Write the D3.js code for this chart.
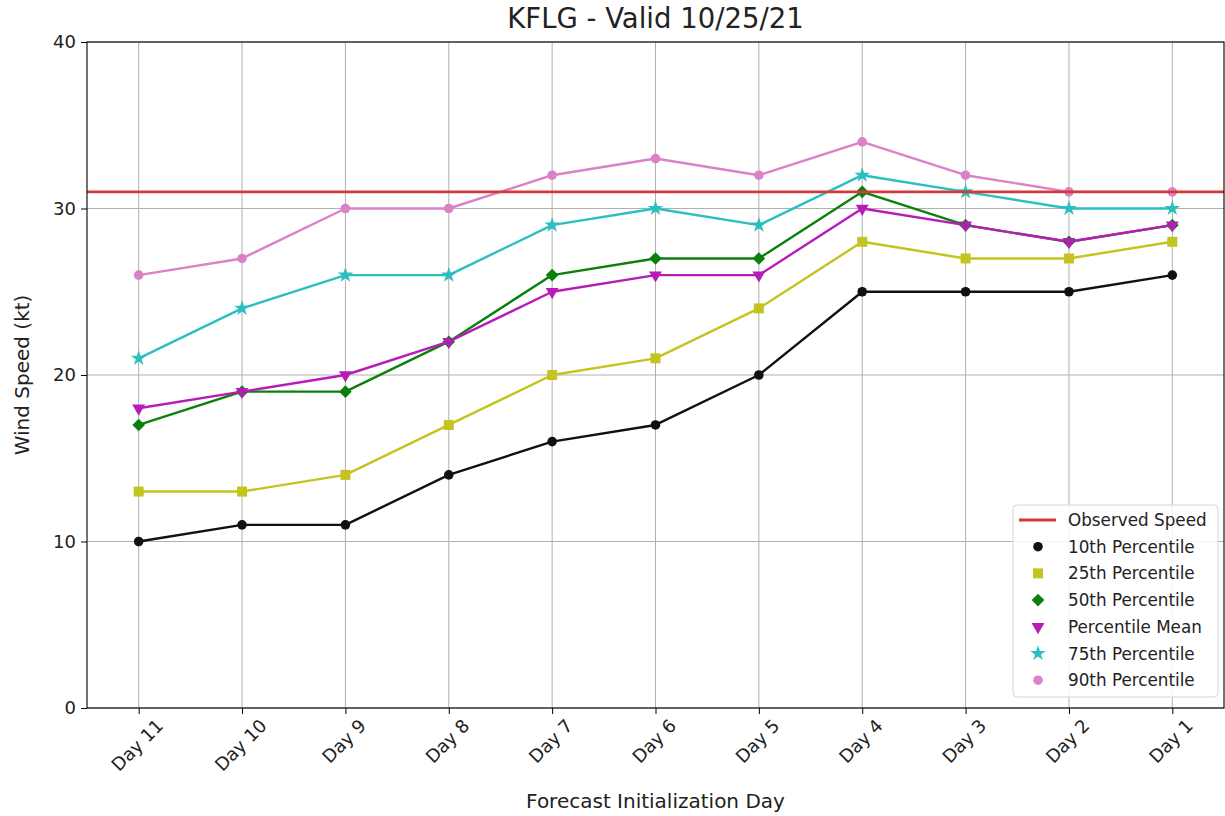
<!DOCTYPE html>
<html>
<head>
<meta charset="utf-8">
<script src="https://cdn.jsdelivr.net/npm/d3@7"></script>
<style>
    body { margin: 0; background: #fff; }
    text { font-family: "DejaVu Sans", sans-serif; fill: #222; }
</style>
</head>
<body>
<div id="chart"></div>
<script>
const days = ['Day 11', 'Day 10', 'Day 9', 'Day 8', 'Day 7', 'Day 6', 'Day 5', 'Day 4', 'Day 3', 'Day 2', 'Day 1'];
const p10 = [10, 11, 11, 14, 16, 17, 20, 25, 25, 25, 26];
const p25 = [13, 13, 14, 17, 20, 21, 24, 28, 27, 27, 28];
const p50 = [17, 19, 19, 22, 26, 27, 27, 31, 29, 28, 29];
const pMean = [18, 19, 20, 22, 25, 26, 26, 30, 29, 28, 29];
const p75 = [21, 24, 26, 26, 29, 30, 29, 32, 31, 30, 30];
const p90 = [26, 27, 30, 30, 32, 33, 32, 34, 32, 31, 31];
const observed = 31;
const yTicks = [0, 10, 20, 30, 40];

const series = [
    { name: '10th Percentile', values: p10, color: '#111111', shape: 'circle' },
    { name: '25th Percentile', values: p25, color: '#c4c420', shape: 'square' },
    { name: '50th Percentile', values: p50, color: '#0b800b', shape: 'diamond' },
    { name: 'Percentile Mean', values: pMean, color: '#b81cb8', shape: 'tridown' },
    { name: '75th Percentile', values: p75, color: '#2cbfbf', shape: 'star' },
    { name: '90th Percentile', values: p90, color: '#da82c8', shape: 'circle' }
];

const width = 1225, height = 816;
const margin = { top: 42, right: 1, bottom: 108, left: 87 };

const svg = d3.select('#chart').append('svg')
    .attr('width', width)
    .attr('height', height);

const xScale = d3.scaleLinear()
    .domain([-0.5, days.length - 0.5])
    .range([margin.left, width - margin.right]);

const yScale = d3.scaleLinear()
    .domain([0, 40])
    .range([height - margin.bottom, margin.top]);

const plotBottom = height - margin.bottom;

// grid
svg.append('g')
    .selectAll('line')
    .data(days.map((d, i) => i))
    .enter().append('line')
    .attr('x1', d => xScale(d)).attr('x2', d => xScale(d))
    .attr('y1', margin.top).attr('y2', plotBottom)
    .attr('stroke', '#b0b0b0').attr('stroke-width', 1);

svg.append('g')
    .selectAll('line')
    .data(yTicks)
    .enter().append('line')
    .attr('x1', margin.left).attr('x2', width - margin.right)
    .attr('y1', d => yScale(d)).attr('y2', d => yScale(d))
    .attr('stroke', '#b0b0b0').attr('stroke-width', 1);

// axes
const yAxis = d3.axisLeft(yScale)
    .tickValues(yTicks)
    .tickSize(6)
    .tickPadding(5)
    .tickSizeOuter(0);

const gY = svg.append('g')
    .attr('transform', 'translate(' + margin.left + ',0)')
    .call(yAxis);
gY.select('.domain').remove();
gY.selectAll('text').style('font-size', '18px').style('font-family', '"DejaVu Sans", sans-serif').attr('fill', '#222');

const xAxis = d3.axisBottom(xScale)
    .tickValues(days.map((d, i) => i))
    .tickFormat(i => days[i])
    .tickSize(6)
    .tickSizeOuter(0);

const gX = svg.append('g')
    .attr('transform', 'translate(0,' + plotBottom + ')')
    .call(xAxis);
gX.select('.domain').remove();

gX.selectAll('text')
    .style('font-size', '18px')
    .style('font-family', '"DejaVu Sans", sans-serif')
    .attr('fill', '#222')
    .attr('text-anchor', 'middle')
    .attr('dy', null)
    .attr('dominant-baseline', 'central')
    .each(function () {
        const len = this.getComputedTextLength();
        const box = (len + 18) * 0.7071;
        const cy = 8 + box / 2;
        d3.select(this)
            .attr('y', cy)
            .attr('x', -2)
            .attr('transform', 'rotate(-45,-2,' + cy + ')');
    });

// markers (drawn below lines)
function symbolFor(shape) {
    if (shape === 'circle') return { type: d3.symbolCircle, size: 72, rot: 0 };
    if (shape === 'square') return { type: d3.symbolSquare, size: 100, rot: 0 };
    if (shape === 'diamond') return { type: d3.symbolSquare, size: 80, rot: 45 };
    if (shape === 'tridown') return { type: d3.symbolTriangle, size: 72, rot: 180 };
    return { type: d3.symbolStar, size: 75, rot: 0 };
}

series.forEach((s, index) => {
    const sym = symbolFor(s.shape);
    svg.selectAll('.dot' + index)
        .data(s.values)
        .enter()
        .append('path')
        .attr('class', 'dot' + index)
        .attr('d', d3.symbol().type(sym.type).size(sym.size))
        .attr('transform', (d, i) => 'translate(' + xScale(i) + ',' + yScale(d) + ') rotate(' + sym.rot + ')')
        .attr('fill', s.color);
});

const line = d3.line()
    .x((d, i) => xScale(i))
    .y(d => yScale(d));

series.forEach(s => {
    svg.append('path')
        .datum(s.values)
        .attr('fill', 'none')
        .attr('stroke', s.color)
        .attr('stroke-width', 2.4)
        .attr('stroke-linejoin', 'round')
        .attr('d', line);
});

// observed speed
svg.append('line')
    .attr('x1', margin.left).attr('x2', width - margin.right)
    .attr('y1', yScale(observed)).attr('y2', yScale(observed))
    .attr('stroke', '#d43a3a').attr('stroke-width', 2.8);

// frame
svg.append('rect')
    .attr('x', margin.left).attr('y', margin.top)
    .attr('width', width - margin.right - margin.left)
    .attr('height', plotBottom - margin.top)
    .attr('fill', 'none').attr('stroke', '#000').attr('stroke-width', 1.1);

// labels
svg.append('text')
    .attr('x', (margin.left + width - margin.right) / 2)
    .attr('y', 28)
    .attr('text-anchor', 'middle')
    .style('font-size', '27.5px')
    .text('KFLG - Valid 10/25/21');

svg.append('text')
    .attr('x', (margin.left + width - margin.right) / 2)
    .attr('y', 808)
    .attr('text-anchor', 'middle')
    .style('font-size', '20px')
    .text('Forecast Initialization Day');

svg.append('text')
    .attr('transform', 'translate(29,' + (margin.top + plotBottom) / 2 + ') rotate(-90)')
    .attr('text-anchor', 'middle')
    .style('font-size', '20px')
    .text('Wind Speed (kt)');

// legend
const legend = svg.append('g').attr('transform', 'translate(1013,505)');
legend.append('rect')
    .attr('width', 205).attr('height', 192)
    .attr('rx', 4)
    .attr('fill', 'rgba(255,255,255,0.85)')
    .attr('stroke', '#d6d6d6');

const rowY = i => 15 + i * 26.7;

legend.append('line')
    .attr('x1', 6).attr('x2', 43)
    .attr('y1', rowY(0)).attr('y2', rowY(0))
    .attr('stroke', '#d43a3a').attr('stroke-width', 2.8);
legend.append('text')
    .attr('x', 55).attr('y', rowY(0))
    .attr('dominant-baseline', 'central')
    .style('font-size', '16.8px')
    .text('Observed Speed');

series.forEach((s, i) => {
    const sym = symbolFor(s.shape);
    legend.append('path')
        .attr('d', d3.symbol().type(sym.type).size(sym.size))
        .attr('transform', 'translate(25,' + rowY(i + 1) + ') rotate(' + sym.rot + ')')
        .attr('fill', s.color);
    legend.append('text')
        .attr('x', 55).attr('y', rowY(i + 1))
        .attr('dominant-baseline', 'central')
        .style('font-size', '16.8px')
        .text(s.name);
});
</script>
</body>
</html>
